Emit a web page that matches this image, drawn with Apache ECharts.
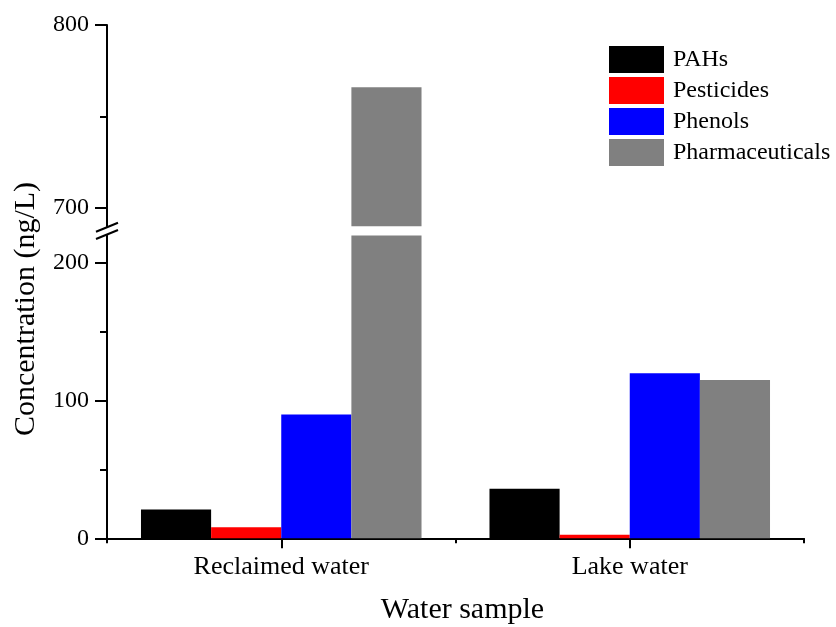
<!DOCTYPE html>
<html>
<head>
<meta charset="utf-8">
<script src="https://cdn.jsdelivr.net/npm/echarts@6/dist/echarts.min.js"></script>
<style>html,body{margin:0;padding:0;background:#fff}#c{width:836px;height:627px}</style>
</head>
<body>
<div id="c"></div>
<script>
const categories = ['Reclaimed water', 'Lake water'];
const seriesNames = ['PAHs', 'Pesticides', 'Phenols', 'Pharmaceuticals'];
const pahs = [21, 36];
const pesticides = [8, 2.5];
const phenols = [90, 120];
const pharmaceuticals = [766, 115];
const lowerRange = [0, 220];
const upperRange = [690, 800];
const lowerTicks = [0, 100, 200];
const lowerMinorTicks = [50, 150];
const upperTicks = [700, 800];
const upperMinorTicks = [750];
const colors = ['#000000', '#ff0000', '#0000ff', '#808080'];

const FONT = '"Liberation Serif", "Times New Roman", serif';
const gridLeft = 107, gridRight = 32;
const lowerTop = 235.5, lowerBottom = 88.7;
const upperTop = 25, upperHeight = 201.3;

const values = [pahs, pesticides, phenols, pharmaceuticals];

function mainY(grid, range, ticks) {
  return {
    type: 'value', gridIndex: grid, position: 'left', min: range[0], max: range[1],
    axisLine: { show: true, lineStyle: { color: '#000', width: 2 } },
    axisTick: { show: true, inside: false, length: 12, customValues: ticks, lineStyle: { color: '#000', width: 2 } },
    axisLabel: { customValues: ticks, fontFamily: FONT, fontSize: 24, color: '#000', margin: 18 },
    splitLine: { show: false }
  };
}
function minorY(grid, range, ticks) {
  return {
    type: 'value', gridIndex: grid, position: 'left', offset: 0, min: range[0], max: range[1],
    axisLine: { show: false },
    axisTick: { show: true, inside: false, length: 7, customValues: ticks, lineStyle: { color: '#000', width: 2 } },
    axisLabel: { show: false },
    splitLine: { show: false }
  };
}

const series = [];
seriesNames.forEach((n, i) => {
  series.push({
    name: n, type: 'bar', xAxisIndex: 0, yAxisIndex: 0,
    barGap: '0%', barCategoryGap: '19.5%',
    itemStyle: { color: colors[i] },
    data: values[i]
  });
});
seriesNames.forEach((n, i) => {
  series.push({
    name: n, type: 'bar', xAxisIndex: 2, yAxisIndex: 2,
    barGap: '0%', barCategoryGap: '19.5%',
    itemStyle: { color: colors[i] },
    data: values[i].map(v => v > upperRange[0] ? v : '-')
  });
});

const chart = echarts.init(document.getElementById('c'), null, { renderer: 'canvas' });
chart.setOption({
  backgroundColor: '#fff',
  animation: false,
  grid: [
    { left: gridLeft, right: gridRight, top: lowerTop, bottom: lowerBottom },
    { left: gridLeft, right: gridRight, top: upperTop, height: upperHeight }
  ],
  legend: {
    orient: 'vertical', left: 604, top: 41,
    itemWidth: 55, itemHeight: 27, itemGap: 4, icon: 'rect',
    selectedMode: false,
    data: seriesNames,
    textStyle: { fontFamily: FONT, fontSize: 24, color: '#000', padding: [0, 0, 0, 4] }
  },
  xAxis: [
    {
      type: 'category', gridIndex: 0, data: categories,
      axisLine: { show: true, lineStyle: { color: '#000', width: 2 } },
      axisTick: { show: true, alignWithLabel: true, length: 10, lineStyle: { color: '#000', width: 2 } },
      axisLabel: { fontFamily: FONT, fontSize: 26, color: '#000', margin: 16 },
      name: 'Water sample', nameLocation: 'middle', nameGap: 57,
      nameTextStyle: { fontFamily: FONT, fontSize: 30, color: '#000', padding: [0, 0, 0, 14] }
    },
    {
      type: 'category', gridIndex: 0, data: categories, position: 'bottom', offset: 0,
      axisLine: { show: false },
      axisTick: { show: true, alignWithLabel: false, length: 5, lineStyle: { color: '#000', width: 2 } },
      axisLabel: { show: false }
    },
    { type: 'category', gridIndex: 1, data: categories, show: false }
  ],
  yAxis: [
    mainY(0, lowerRange, lowerTicks),
    minorY(0, lowerRange, lowerMinorTicks),
    mainY(1, upperRange, upperTicks),
    minorY(1, upperRange, upperMinorTicks)
  ],
  series: series
});

const yUpperEnd = chart.convertToPixel({ yAxisIndex: 2 }, upperRange[0]);
const yLowerStart = chart.convertToPixel({ yAxisIndex: 0 }, lowerRange[1]);
const slash = (yc) => ({
  type: 'line',
  shape: { x1: gridLeft - 11, y1: yc + 4.5, x2: gridLeft + 11, y2: yc - 4.5 },
  style: { stroke: '#000', lineWidth: 2 }
});
chart.setOption({
  graphic: [
    slash(yUpperEnd + 1),
    slash(yLowerStart - 1),
    {
      type: 'text',
      rotation: Math.PI / 2,
      x: 26, y: 309,
      style: { text: 'Concentration (ng/L)', font: '30px ' + FONT, fill: '#000', align: 'center', verticalAlign: 'middle' }
    }
  ]
});
</script>
</body>
</html>
